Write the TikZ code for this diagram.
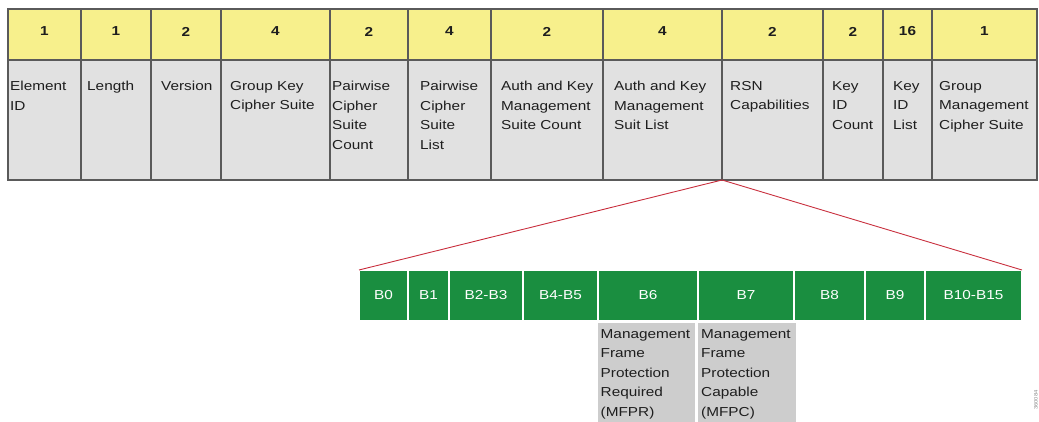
\documentclass[tikz,border=0pt]{standalone}
\usepackage{fontspec}
\setmainfont{Liberation Sans}[FakeStretch=1.18]
\usetikzlibrary{calc}
\definecolor{ylw}{RGB}{247,240,140}
\definecolor{cellgray}{RGB}{225,225,225}
\definecolor{bordergray}{RGB}{90,90,90}
\definecolor{grn}{RGB}{26,142,64}
\definecolor{boxgray}{RGB}{205,205,205}
\definecolor{redline}{RGB}{200,45,60}
\definecolor{txt}{RGB}{30,30,30}
\begin{document}
\begin{tikzpicture}[x=1pt,y=-1pt,
  cell/.style={draw=bordergray, line width=1.3pt, inner sep=0pt, outer sep=0pt, anchor=north west},
  ycell/.style={cell, fill=ylw},
  gcell/.style={cell, fill=cellgray},
  bitcell/.style={draw=white, line width=1.4pt, fill=grn, inner sep=0pt, outer sep=0pt, anchor=north west},
  bittxt/.style={text=white, font=\fontsize{13}{15}\selectfont, inner sep=0pt},
  numtxt/.style={font=\fontsize{13}{15}\selectfont\bfseries, text=txt, inner sep=0pt},
  fieldtxt/.style={font=\fontsize{13}{19.4}\selectfont, text=txt, align=left, inner sep=0pt, anchor=north west},
  notebox/.style={fill=boxgray, inner sep=0pt, outer sep=0pt, anchor=north west},
  redl/.style={draw=redline, line width=0.9pt}
]
\useasboundingbox (0,0) rectangle (1039,422);

% top table
\foreach \l/\r/\n/\tx/\t [count=\i] in {
  8/81/1/10/{Element\\ID},
  81/151/1/87/{Length},
  151/221/2/161/{Version},
  221/330/4/230/{Group Key\\Cipher Suite},
  330/408/2/332/{Pairwise\\Cipher\\Suite\\Count},
  408/491/4/420/{Pairwise\\Cipher\\Suite\\List},
  491/603/2/501/{Auth and Key\\Management\\Suite Count},
  603/722/4/614/{Auth and Key\\Management\\Suit List},
  722/823/2/730/{RSN\\Capabilities},
  823/883/2/832/{Key\\ID\\Count},
  883/932/16/893/{Key\\ID\\List},
  932/1037/1/939/{Group\\Management\\Cipher Suite}} {
  \pgfmathsetmacro\w{\r-\l}
  \node[ycell, minimum width=\w pt, minimum height=51pt] (y\i) at (\l,9) {};
  \node[gcell, minimum width=\w pt, minimum height=120pt] (c\i) at (\l,60) {};
  \node[numtxt] (n\i) at ($(y\i.west)!0.5!(y\i.east)+(0,-3)$) {\n};
  \node[fieldtxt] (t\i) at (\tx,81.3) {\t};
}

% bit row
\foreach \l/\r/\t [count=\i] in {
  359/408/B0, 408/449/B1, 449/523/B2-B3, 523/598/B4-B5, 598/698/B6,
  698/794/B7, 794/865/B8, 865/925/B9, 925/1022/B10-B15} {
  \pgfmathsetmacro\w{\r-\l}
  \node[bitcell, minimum width=\w pt, minimum height=51pt] (b\i) at (\l,270) {};
  \node[bittxt] (bt\i) at ($(b\i.west)!0.5!(b\i.east)+(0,-0.5)$) {\t};
}

% zoom lines
\draw[redl] (c9.south west) -- (b1.north west);
\draw[redl] (c9.south west) -- (b9.north east);

% note boxes
\node[notebox, minimum width=97pt, minimum height=99pt] (m6) at (598,323) {};
\node[notebox, minimum width=98pt, minimum height=99pt] (m7) at (698,323) {};
\node[fieldtxt] (mt6) at (600.5,329.3) {Management\\Frame\\Protection\\Required\\(MFPR)};
\node[fieldtxt] (mt7) at (701,329.3) {Management\\Frame\\Protection\\Capable\\(MFPC)};

% figure number
\node[rotate=90, font=\fontsize{5}{6}\selectfont, text=black!45, inner sep=0pt] (fig) at (1036,400) {360084};
\end{tikzpicture}
\end{document}
